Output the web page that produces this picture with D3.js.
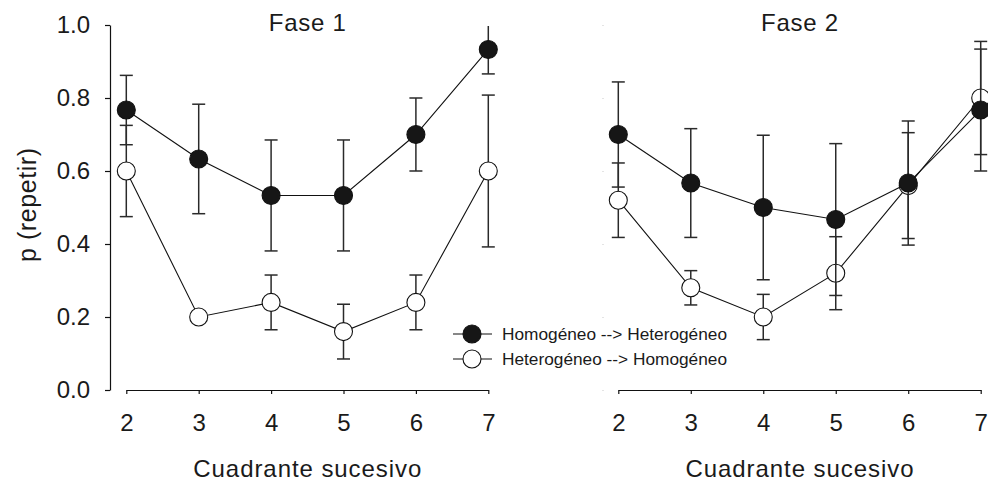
<!DOCTYPE html>
<html>
<head>
<meta charset="utf-8">
<script src="https://cdn.jsdelivr.net/npm/d3@7"></script>
<style>
  html, body { margin: 0; padding: 0; background: #fff; }
  svg { display: block; font-family: "Liberation Sans", Arial, Helvetica, sans-serif; }
</style>
</head>
<body>
<svg id="chart" width="988" height="482"></svg>
<script>
// Cuadrantes sucesivos (eje x) y marcas del eje y
const cuadrantes = [2, 3, 4, 5, 6, 7];
const yTicks = [0, 0.2, 0.4, 0.6, 0.8, 1.0];

// Fase 1: proporción de repetición y error
const fase1HomHet = [0.767, 0.633, 0.533, 0.533, 0.700, 0.933];
const fase1HomHetErr = [0.095, 0.150, 0.152, 0.152, 0.100, 0.067];
const fase1HetHom = [0.600, 0.200, 0.240, 0.160, 0.240, 0.600];
const fase1HetHomErr = [0.125, 0.000, 0.075, 0.075, 0.075, 0.208];

// Fase 2
const fase2HomHet = [0.700, 0.567, 0.500, 0.467, 0.567, 0.767];
const fase2HomHetErr = [0.144, 0.149, 0.198, 0.208, 0.170, 0.167];
const fase2HetHom = [0.520, 0.280, 0.200, 0.320, 0.560, 0.800];
const fase2HetHomErr = [0.102, 0.047, 0.062, 0.100, 0.145, 0.155];

const serieNombres = ["Homogéneo --> Heterogéneo", "Heterogéneo --> Homogéneo"];

const svg = d3.select("#chart");
const y = d3.scaleLinear().domain([0, 1]).range([390, 25]);

const paneles = [
  { titulo: "Fase 1", range: [126.3, 488.3], yAxis: true,
    hom: fase1HomHet, homErr: fase1HomHetErr, het: fase1HetHom, hetErr: fase1HetHomErr },
  { titulo: "Fase 2", range: [618.3, 980.7], yAxis: false,
    hom: fase2HomHet, homErr: fase2HomHetErr, het: fase2HetHom, hetErr: fase2HetHomErr }
];

// el área de datos termina en p = 1.0
svg.append("defs").append("clipPath").attr("id", "area")
  .append("rect").attr("x", 0).attr("y", 26).attr("width", 988).attr("height", 400);

function dibujarSerie(g, x, vals, errs, relleno) {
  const pts = cuadrantes.map((c, i) => ({ c, v: vals[i], e: errs[i] }));
  g.append("path")
    .datum(pts)
    .attr("fill", "none")
    .attr("stroke", "#111")
    .attr("stroke-width", 1.1)
    .attr("d", d3.line().x(d => x(d.c)).y(d => y(d.v)));
  const eb = g.append("g").attr("stroke", "#2a2a2a").attr("stroke-width", 1.5);
  pts.filter(d => d.e > 0).forEach(d => {
    const cx = x(d.c), y0 = y(d.v - d.e), y1 = y(d.v + d.e);
    eb.append("line").attr("x1", cx).attr("x2", cx).attr("y1", y0).attr("y2", y1);
    eb.append("line").attr("x1", cx - 6.5).attr("x2", cx + 6.5).attr("y1", y0).attr("y2", y0);
    eb.append("line").attr("x1", cx - 6.5).attr("x2", cx + 6.5).attr("y1", y1).attr("y2", y1);
  });
  g.selectAll(null).data(pts).join("circle")
    .attr("cx", d => x(d.c))
    .attr("cy", d => y(d.v))
    .attr("r", 9)
    .attr("fill", relleno)
    .attr("stroke", "#111")
    .attr("stroke-width", 1.1);
}

paneles.forEach(p => {
  const x = d3.scaleLinear().domain([2, 7]).range(p.range);

  // eje x
  svg.append("g")
    .attr("transform", "translate(0,390)")
    .call(d3.axisBottom(x).tickValues(cuadrantes).tickFormat(d3.format("d"))
      .tickSize(4).tickSizeOuter(0).tickPadding(20))
    .call(g => g.selectAll("path, line").attr("stroke", "#111").attr("stroke-width", 1.2))
    .call(g => g.selectAll("text").attr("font-size", 24).attr("fill", "#1a1a1a")
      .attr("font-family", "'Liberation Sans', Arial, sans-serif"));

  // eje y
  if (p.yAxis) {
    svg.append("g")
      .attr("transform", "translate(110,0)")
      .call(d3.axisLeft(y).tickValues(yTicks).tickFormat(d3.format(".1f"))
        .tickSize(5).tickSizeOuter(0).tickPadding(15))
      .call(g => g.selectAll("path, line").attr("stroke", "#111").attr("stroke-width", 1.2))
      .call(g => g.selectAll("text").attr("font-size", 24).attr("fill", "#1a1a1a")
        .attr("font-family", "'Liberation Sans', Arial, sans-serif"));
  } else {
    svg.append("g")
      .attr("transform", "translate(604,0)")
      .call(d3.axisLeft(y).tickValues(yTicks).tickFormat("").tickSize(2).tickSizeOuter(0))
      .call(g => g.select(".domain").remove())
      .call(g => g.selectAll("line").attr("stroke", "#e4e4e4").attr("stroke-width", 1));
  }

  // título del panel
  svg.append("text")
    .attr("x", (p.range[0] + p.range[1]) / 2)
    .attr("y", 31)
    .attr("text-anchor", "middle")
    .attr("font-size", 24)
    .attr("fill", "#1a1a1a")
    .attr("textLength", 77)
    .text(p.titulo);

  // título del eje x
  svg.append("text")
    .attr("x", (p.range[0] + p.range[1]) / 2)
    .attr("y", 477)
    .attr("text-anchor", "middle")
    .attr("font-size", 24)
    .attr("fill", "#1a1a1a")
    .attr("textLength", 228)
    .text("Cuadrante sucesivo");

  const g = svg.append("g").attr("clip-path", "url(#area)");
  dibujarSerie(g, x, p.het, p.hetErr, "#fff");
  dibujarSerie(g, x, p.hom, p.homErr, "#161616");
});

// título del eje y
svg.append("text")
  .attr("transform", "translate(36,205) rotate(-90)")
  .attr("text-anchor", "middle")
  .attr("font-size", 25)
  .attr("fill", "#1a1a1a")
  .attr("textLength", 114)
  .text("p (repetir)");

// leyenda
const leyenda = svg.append("g");
const filas = [
  { nombre: serieNombres[0], relleno: "#161616", yy: 334 },
  { nombre: serieNombres[1], relleno: "#fff", yy: 359 }
];
filas.forEach(f => {
  leyenda.append("line").attr("x1", 453).attr("x2", 492).attr("y1", f.yy).attr("y2", f.yy)
    .attr("stroke", "#111").attr("stroke-width", 1.1);
  leyenda.append("circle").attr("cx", 472).attr("cy", f.yy).attr("r", 9)
    .attr("fill", f.relleno).attr("stroke", "#111").attr("stroke-width", 1.1);
  leyenda.append("text").attr("x", 502).attr("y", f.yy).attr("dy", "0.36em")
    .attr("font-size", 16).attr("fill", "#1a1a1a")
    .attr("textLength", 225).attr("lengthAdjust", "spacingAndGlyphs")
    .text(f.nombre);
});
</script>
</body>
</html>
